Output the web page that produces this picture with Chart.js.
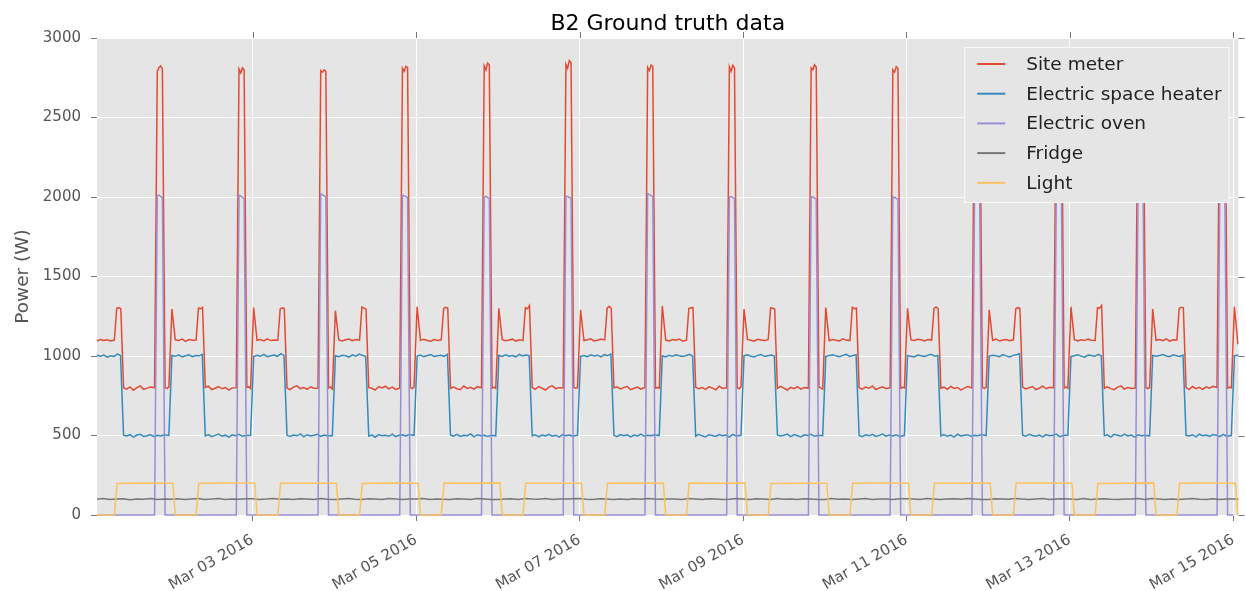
<!DOCTYPE html>
<html>
<head>
<meta charset="utf-8">
<title>B2 Ground truth data</title>
<script src="https://cdn.jsdelivr.net/npm/chart.js@4.4.1/dist/chart.umd.min.js"></script>
<style>
  html, body { margin: 0; padding: 0; background: #fff; }
  canvas { display: block; }
</style>
</head>
<body>
<canvas id="powerChart" width="1246" height="591"></canvas>
<script>
// Each series: the hours of the day it was read at, then one row of readings per day from Mar 01.
const meterHours = [0.3, 1.3, 2.3, 3.3, 4.3, 5.3, 6.3, 7.4, 8.1, 8.7, 9.3, 10.1, 11, 12, 13, 14, 15, 16, 17, 18, 19.2, 20.0, 20.5, 21.0, 21.5, 22.3, 22.9, 23.4];
const meterDays = [
  [1310, 1100, 1096, 1104, 1098, 1102, 1095, 1100, 1300, 1304, 1298, 800, 792, 806, 785, 801, 812, 790, 798, 805, 800, 2790, 2815, 2824, 2805, 800, 796, 804],
  [1295, 1102, 1098, 1106, 1092, 1103, 1099, 1101, 1302, 1298, 1305, 803, 810, 789, 797, 808, 794, 802, 786, 799, 801, 2805, 2780, 2812, 2798, 802, 807, 795],
  [1305, 1098, 1103, 1095, 1108, 1097, 1101, 1099, 1296, 1303, 1299, 798, 788, 804, 812, 795, 801, 790, 806, 797, 799, 2795, 2785, 2800, 2790, 799, 804, 793],
  [1285, 1101, 1094, 1102, 1107, 1096, 1103, 1100, 1308, 1301, 1296, 801, 797, 786, 808, 799, 810, 793, 804, 790, 798, 2810, 2790, 2822, 2815, 801, 795, 806],
  [1310, 1099, 1105, 1097, 1093, 1104, 1098, 1102, 1299, 1306, 1302, 797, 805, 794, 788, 811, 796, 803, 792, 807, 800, 2825, 2800, 2842, 2830, 798, 803, 796],
  [1300, 1103, 1096, 1101, 1106, 1094, 1102, 1098, 1304, 1297, 1318, 802, 791, 808, 797, 786, 804, 812, 795, 801, 799, 2835, 2810, 2858, 2845, 803, 797, 801],
  [1290, 1097, 1102, 1108, 1095, 1099, 1106, 1101, 1301, 1312, 1299, 799, 806, 793, 801, 809, 788, 797, 805, 792, 802, 2815, 2795, 2830, 2820, 797, 802, 798],
  [1315, 1100, 1095, 1103, 1099, 1107, 1093, 1099, 1298, 1303, 1305, 803, 795, 802, 790, 806, 799, 787, 810, 796, 800, 2820, 2790, 2828, 2812, 800, 794, 807],
  [1295, 1104, 1099, 1093, 1105, 1101, 1097, 1103, 1303, 1300, 1296, 796, 809, 798, 786, 803, 795, 807, 791, 801, 798, 2812, 2800, 2832, 2818, 805, 798, 792],
  [1305, 1096, 1103, 1099, 1094, 1108, 1100, 1097, 1306, 1298, 1302, 800, 792, 805, 797, 811, 789, 799, 806, 794, 801, 2800, 2785, 2820, 2808, 797, 803, 799],
  [1300, 1101, 1097, 1105, 1102, 1095, 1104, 1100, 1300, 1309, 1297, 798, 804, 791, 809, 796, 802, 785, 798, 808, 799, 2810, 2795, 2825, 2815, 802, 796, 804],
  [1290, 1098, 1106, 1094, 1101, 1103, 1096, 1102, 1297, 1304, 1300, 805, 793, 800, 808, 789, 797, 810, 794, 803, 800, 2805, 2790, 2818, 2810, 799, 805, 797],
  [1310, 1103, 1095, 1102, 1097, 1106, 1099, 1098, 1304, 1301, 1318, 797, 806, 795, 788, 804, 812, 792, 801, 796, 798, 2815, 2800, 2826, 2812, 801, 795, 802],
  [1295, 1099, 1104, 1096, 1108, 1093, 1102, 1101, 1299, 1306, 1303, 801, 789, 808, 795, 803, 790, 806, 797, 809, 802, 2820, 2795, 2830, 2815, 798, 803, 800],
  [1310, 1080, 1100]
];

const heaterHours = [0.3, 1.3, 2.3, 3.3, 4.3, 5.3, 6.3, 7.3, 8.3, 9.2, 10.1, 11, 12, 13, 14, 15, 16, 17, 18, 19, 20, 21, 22, 23.4];
const heaterDays = [
  [1000, 995, 1004, 998, 1006, 993, 1001, 997, 1012, 1003, 502, 497, 505, 490, 503, 508, 494, 499, 506, 493, 501, 497, 504, 500],
  [1003, 998, 1007, 994, 1002, 1008, 996, 1003, 1001, 1010, 498, 506, 493, 501, 509, 495, 502, 490, 504, 498, 507, 495, 500, 502],
  [997, 1005, 999, 1010, 996, 1002, 1006, 998, 1015, 1004, 501, 494, 503, 498, 510, 492, 505, 497, 501, 507, 494, 503, 498, 499],
  [1002, 996, 1004, 1001, 993, 1007, 999, 1012, 1003, 998, 497, 503, 489, 506, 498, 502, 495, 508, 493, 501, 504, 497, 506, 501],
  [999, 1006, 995, 1003, 1009, 997, 1002, 1005, 998, 1011, 503, 496, 507, 494, 502, 499, 510, 491, 505, 498, 502, 494, 501, 498],
  [1004, 997, 1008, 999, 1003, 995, 1010, 1001, 1006, 1002, 499, 505, 492, 503, 497, 508, 496, 502, 490, 506, 499, 503, 495, 502],
  [998, 1003, 996, 1007, 1000, 1005, 994, 1009, 1002, 1013, 501, 493, 506, 499, 504, 491, 503, 497, 509, 495, 502, 498, 505, 500],
  [1001, 994, 1005, 998, 1008, 1002, 997, 1003, 1011, 999, 496, 507, 498, 491, 505, 500, 494, 506, 499, 503, 490, 507, 497, 501],
  [1002, 1007, 999, 994, 1004, 1009, 998, 1002, 1006, 1000, 503, 497, 502, 509, 493, 506, 498, 491, 504, 500, 507, 495, 502, 499],
  [996, 1003, 1008, 1001, 995, 1004, 1010, 997, 1003, 1008, 500, 492, 504, 498, 507, 494, 501, 509, 496, 503, 497, 505, 493, 501],
  [1003, 999, 994, 1006, 1002, 997, 1005, 1011, 999, 1004, 498, 506, 495, 503, 490, 508, 497, 502, 505, 494, 501, 499, 506, 500],
  [1000, 1005, 1002, 996, 1009, 1001, 994, 1004, 1008, 1015, 502, 495, 507, 500, 496, 503, 491, 506, 498, 502, 509, 493, 500, 503],
  [997, 1002, 1007, 999, 993, 1006, 1003, 998, 1010, 1002, 499, 504, 490, 507, 501, 495, 509, 497, 503, 490, 504, 498, 502, 497],
  [1004, 998, 1003, 1009, 1000, 996, 1007, 1002, 997, 1006, 501, 497, 505, 492, 508, 499, 503, 494, 506, 501, 493, 507, 496, 500],
  [1002, 1005, 1000]
];

const ovenHours = [0.0, 19.2, 20.0, 20.5, 21.5, 22.3];
const ovenDays = [
  [0, 0, 2010, 2012, 1995, 0],
  [0, 0, 2012, 2005, 1990, 0],
  [0, 0, 2020, 2015, 2000, 0],
  [0, 0, 2010, 2008, 1995, 0],
  [0, 0, 2000, 2004, 1990, 0],
  [0, 0, 2005, 2003, 1992, 0],
  [0, 0, 2020, 2016, 2000, 0],
  [0, 0, 2000, 2003, 1990, 0],
  [0, 0, 2002, 2000, 1988, 0],
  [0, 0, 2000, 1998, 1985, 0],
  [0, 0, 2005, 2002, 1990, 0],
  [0, 0, 2008, 2004, 1993, 0],
  [0, 0, 2003, 2006, 1991, 0],
  [0, 0, 2010, 2003, 1994, 0],
  [0]
];

const fridgeHours = [0, 2, 4, 6, 8, 10, 12, 14, 16, 18, 20, 22];
const fridgeDays = [
  [101, 98, 103, 97, 100, 102, 96, 101, 99, 104, 98, 100],
  [99, 102, 97, 101, 104, 98, 100, 103, 97, 101, 99, 102],
  [102, 97, 100, 104, 99, 101, 97, 102, 100, 98, 103, 99],
  [98, 101, 103, 99, 97, 102, 100, 98, 104, 100, 97, 101],
  [100, 103, 98, 101, 99, 97, 102, 100, 98, 103, 101, 97],
  [97, 100, 102, 98, 103, 100, 99, 104, 97, 101, 100, 102],
  [103, 99, 97, 102, 100, 98, 101, 97, 102, 99, 104, 100],
  [99, 101, 100, 97, 103, 101, 98, 102, 100, 97, 99, 103],
  [101, 97, 102, 100, 98, 104, 99, 101, 97, 102, 100, 98],
  [98, 103, 99, 101, 97, 100, 103, 98, 101, 100, 97, 102],
  [102, 100, 97, 103, 101, 98, 100, 102, 99, 104, 101, 97],
  [97, 102, 101, 99, 104, 100, 97, 101, 103, 98, 100, 102],
  [100, 98, 103, 97, 100, 102, 99, 97, 101, 100, 103, 98],
  [103, 101, 98, 100, 97, 101, 104, 99, 98, 102, 97, 101],
  [100, 99]
];

const lightHours = [0.6, 1.3, 7.4, 8.2, 16.0];
const lightDays = [
  [200, 0, 0, 198, 201],
  [200, 0, 0, 199, 202],
  [201, 0, 0, 200, 199],
  [199, 0, 0, 198, 201],
  [200, 0, 0, 201, 200],
  [202, 0, 0, 199, 200],
  [200, 0, 0, 200, 202],
  [199, 0, 0, 201, 199],
  [201, 0, 0, 198, 200],
  [200, 0, 0, 200, 201],
  [199, 0, 0, 199, 200],
  [201, 0, 0, 201, 202],
  [200, 0, 0, 198, 200],
  [202, 0, 0, 200, 201],
  [200, 0]
];

const seriesNames = ['Site meter', 'Electric space heater', 'Electric oven', 'Fridge', 'Light'];
const seriesColors = ['#E24A33', '#348ABD', '#988ED5', '#777777', '#FBC15E'];

// x values are days since Mar 01 2016 00:00
const startDay = 2.3 / 24;
const endDay = 14 + 1.5 / 24;
const xTickDays = [2, 4, 6, 8, 10, 12, 14];
const xTickLabels = ['Mar 03 2016', 'Mar 05 2016', 'Mar 07 2016', 'Mar 09 2016', 'Mar 11 2016', 'Mar 13 2016', 'Mar 15 2016'];
const yTicks = [0, 500, 1000, 1500, 2000, 2500, 3000];

const FONT = '"DejaVu Sans", sans-serif';

function toPoints(hours, days) {
  const pts = [];
  days.forEach((row, d) => {
    row.forEach((v, i) => pts.push({ x: d + hours[i] / 24, y: v }));
  });
  return pts;
}

const seriesData = [
  toPoints(meterHours, meterDays),
  toPoints(heaterHours, heaterDays),
  toPoints(ovenHours, ovenDays),
  toPoints(fridgeHours, fridgeDays),
  toPoints(lightHours, lightDays)
];

const datasets = seriesNames.map((name, i) => ({
  label: name,
  data: seriesData[i],
  borderColor: seriesColors[i],
  backgroundColor: seriesColors[i],
  borderWidth: 1.5,
  pointRadius: 0,
  tension: 0,
  order: seriesNames.length - i, // later series sit on top
  clip: { left: 0, right: 0, top: 2, bottom: 2 }
}));

// grey panel, outer ticks on top/right, title, y label and the boxed legend
const panel = {
  id: 'panel',
  beforeDraw(chart) {
    const { ctx, chartArea: a } = chart;
    ctx.save();
    ctx.fillStyle = '#fff';
    ctx.fillRect(0, 0, chart.width, chart.height);
    ctx.fillStyle = '#E5E5E5';
    ctx.fillRect(a.left, a.top, a.right - a.left, a.bottom - a.top);
    ctx.restore();
  },
  afterDraw(chart) {
    const { ctx, chartArea: a, scales } = chart;
    ctx.save();

    ctx.strokeStyle = '#777';
    ctx.lineWidth = 1;
    ctx.beginPath();
    xTickDays.forEach(v => {
      const px = Math.round(scales.x.getPixelForValue(v)) + 0.5;
      ctx.moveTo(px, a.top);
      ctx.lineTo(px, a.top - 6);
    });
    yTicks.forEach(v => {
      const py = Math.round(scales.y.getPixelForValue(v)) + 0.5;
      ctx.moveTo(a.right, py);
      ctx.lineTo(a.right + 6, py);
    });
    ctx.stroke();

    ctx.fillStyle = '#000';
    ctx.font = '22px ' + FONT;
    ctx.textAlign = 'center';
    ctx.textBaseline = 'alphabetic';
    ctx.fillText('B2 Ground truth data', (a.left + a.right) / 2, 30);

    ctx.save();
    ctx.translate(23.5, (a.top + a.bottom) / 2);
    ctx.rotate(-Math.PI / 2);
    ctx.fillStyle = '#555';
    ctx.font = '18.5px ' + FONT;
    ctx.textBaseline = 'middle';
    ctx.fillText('Power (W)', 0, 0);
    ctx.restore();

    ctx.font = '18.5px ' + FONT;
    const textW = Math.max(...chart.data.datasets.map(ds => ctx.measureText(ds.label).width));
    const boxW = 13 + 28 + 21 + textW + 8;
    const boxH = 156;
    const bx = a.right - 9 - boxW;
    const by = a.top + 9;
    ctx.fillStyle = '#E5E5E5';
    ctx.fillRect(bx, by, boxW, boxH);
    ctx.strokeStyle = '#fafafa';
    ctx.strokeRect(bx + 0.5, by + 0.5, boxW - 1, boxH - 1);
    chart.data.datasets.forEach((ds, i) => {
      const cy = by + 17 + i * 29.7;
      ctx.strokeStyle = ds.borderColor;
      ctx.lineWidth = 2;
      ctx.beginPath();
      ctx.moveTo(bx + 13, cy);
      ctx.lineTo(bx + 41, cy);
      ctx.stroke();
      ctx.fillStyle = '#222';
      ctx.textAlign = 'left';
      ctx.textBaseline = 'middle';
      ctx.fillText(ds.label, bx + 62, cy + 1);
    });

    ctx.restore();
  }
};

new Chart(document.getElementById('powerChart'), {
  type: 'line',
  data: { datasets },
  options: {
    responsive: false,
    animation: false,
    devicePixelRatio: 1,
    layout: { padding: { top: 38, right: 7.5, left: 0, bottom: 0 } },
    plugins: {
      legend: { display: false },
      title: { display: false },
      tooltip: { enabled: false }
    },
    scales: {
      x: {
        type: 'linear',
        min: startDay,
        max: endDay,
        afterFit: s => {
          s.height = 76;
          s.paddingLeft = 0;
          s.paddingRight = 0;
        },
        afterBuildTicks: s => { s.ticks = xTickDays.map(v => ({ value: v })); },
        grid: { color: '#fff', lineWidth: 1, drawTicks: true, tickLength: 6, tickColor: '#777' },
        border: { display: false },
        ticks: {
          autoSkip: false,
          minRotation: 30,
          maxRotation: 30,
          padding: 10,
          color: '#555',
          font: { family: FONT, size: 15 },
          callback: (v, i) => xTickLabels[i]
        }
      },
      y: {
        min: 0,
        max: 3000,
        afterFit: s => {
          s.width = 97;
          s.paddingTop = 0;
          s.paddingBottom = 0;
        },
        afterBuildTicks: s => { s.ticks = yTicks.map(v => ({ value: v })); },
        grid: { color: '#fff', lineWidth: 1, drawTicks: true, tickLength: 6, tickColor: '#777' },
        border: { display: false },
        ticks: {
          padding: 10,
          color: '#555',
          font: { family: FONT, size: 15 },
          callback: v => String(v)
        }
      }
    }
  },
  plugins: [panel]
});
</script>
</body>
</html>
